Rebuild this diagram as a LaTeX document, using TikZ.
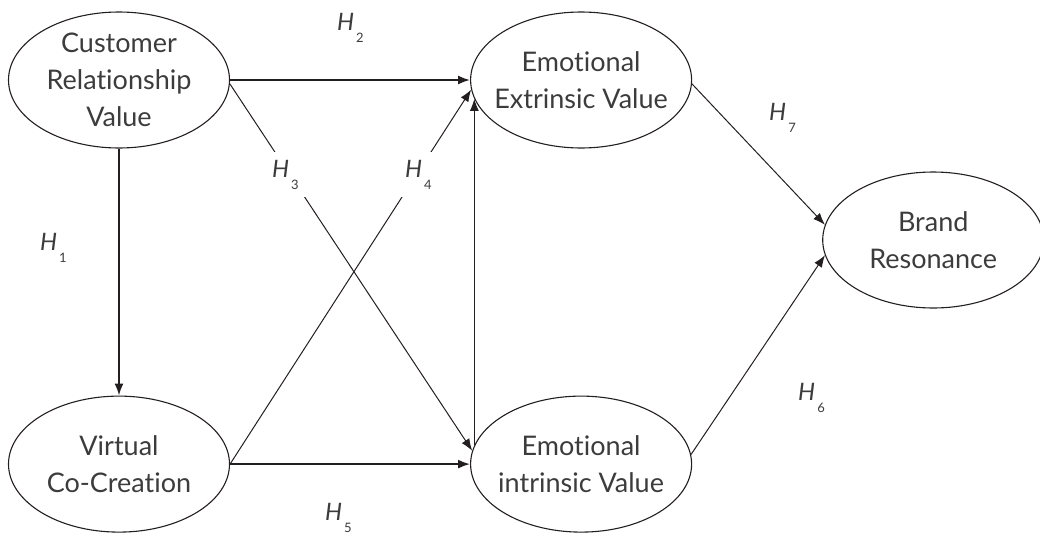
\documentclass[tikz,border=0pt]{standalone}
\usepackage{fontspec}
\setmainfont{Lato}[Ligatures=NoCommon]
\usepackage{tikz}
\usetikzlibrary{arrows.meta,positioning,shapes.geometric,calc}
\definecolor{ink}{RGB}{35,31,32}
\definecolor{textgray}{RGB}{60,60,60}
\newcommand{\hlab}[1]{{\fontsize{24}{24}\selectfont\itshape H}\hspace{2pt}\raisebox{-12pt}{\fontsize{13}{13}\selectfont #1}}

\begin{document}
\begin{tikzpicture}[
  x=1pt, y=-1pt,
  every node/.style={text=textgray},
  latent/.style={ellipse, draw=ink, line width=1.1pt, minimum width=221pt, minimum height=136pt, inner sep=-30pt, align=center, font=\fontsize{27}{37}\selectfont},
  link/.style={-{Latex[length=12pt,width=9pt]}, draw=ink, line width=1pt},
  mainlink/.style={link, line width=1.8pt},
  hyp/.style={anchor=base west, fill=white, inner sep=8pt}
]
\useasboundingbox (0,0) rectangle (1040,533);
\node[latent] (crv) at (119,80) {Customer\\Relationship\\Value};
\node[latent, right=240pt of crv] (eev) {Emotional\\Extrinsic Value};
\node[latent, below=247pt of crv] (vcc) {Virtual\\Co-Creation};
\node[latent, below=247pt of eev] (eiv) {Emotional\\intrinsic Value};
\node[latent, anchor=west] (br) at ($(eev.east)+(130pt,-160pt)$) {Brand\\Resonance};
% paths
\draw[mainlink] (crv) -- (vcc);
\draw[mainlink] (crv) -- (eev);
\draw[mainlink] (vcc) -- (eiv);
\draw[link] (crv.-2) -- (eiv.173);
\draw[link] (vcc.east) -- (eev.185);
\draw[link] (eiv.170) -- (eev.190);
\draw[link] (eev.-2) -- (br.172);
\draw[link] (eiv.5) -- (br.188);
% hypotheses
\node[hyp] (h1) at (32,250) {\hlab{1}};
\node[hyp] (h2) at (329,30) {\hlab{2}};
\node[hyp] (h3) at (264,177) {\hlab{3}};
\node[hyp] (h4) at (397,177) {\hlab{4}};
\node[hyp] (h5) at (317,520) {\hlab{5}};
\node[hyp] (h6) at (790,400) {\hlab{6}};
\node[hyp] (h7) at (761,120) {\hlab{7}};
\end{tikzpicture}
\end{document}
